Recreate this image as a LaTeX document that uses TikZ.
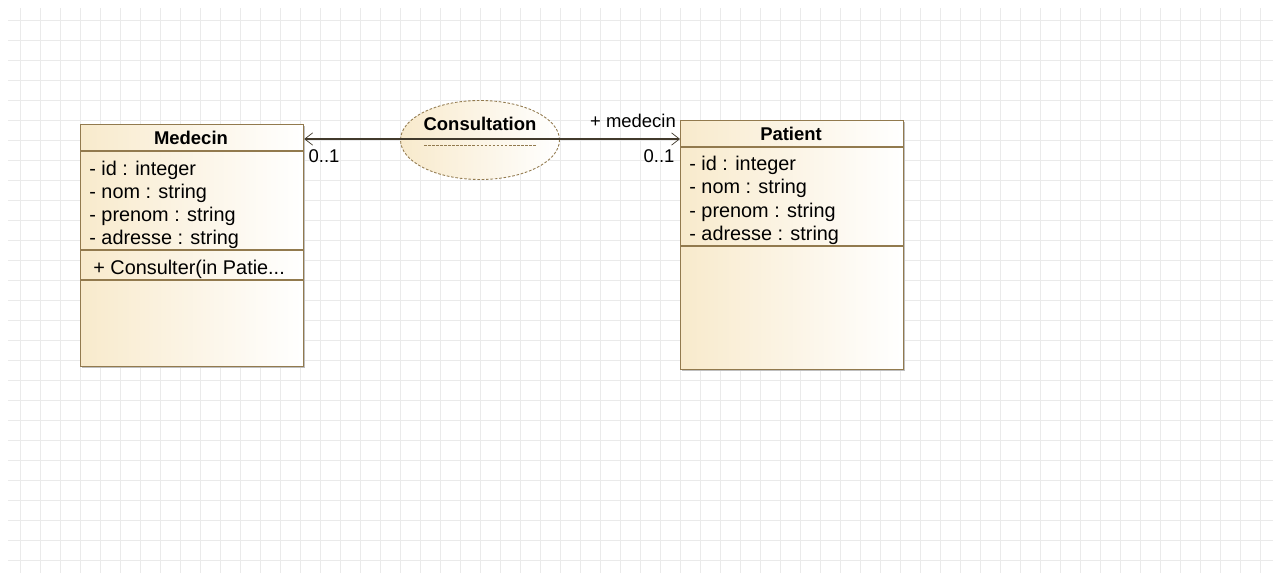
\documentclass[tikz,border=0pt]{standalone}
\usepackage{fontspec}
\setmainfont{Liberation Sans}
\usetikzlibrary{arrows.meta,shapes.geometric}

\definecolor{umlfill}{RGB}{248,234,204}
\definecolor{umlline}{RGB}{146,122,78}
\definecolor{linkcol}{RGB}{66,58,44}
\definecolor{gridcol}{RGB}{234,234,234}

\tikzset{
  classbox/.style={draw=umlline, line width=0.7pt, left color=umlfill, right color=white,
    inner sep=0pt, anchor=north west, minimum width=4.46cm},
  assoc/.style={ellipse, draw=umlline, dash pattern=on 1.5pt off 1pt, line width=0.5pt,
    left color=umlfill, right color=white, minimum width=3.18cm, minimum height=1.58cm},
  sep/.style={draw=umlline, line width=0.6pt},
  attr/.style={anchor=base west, inner sep=0pt, font=\fontsize{11.3}{13}\selectfont},
  title/.style={anchor=base, inner sep=0pt, font=\bfseries\fontsize{10.5}{12}\selectfont},
  lbl/.style={anchor=base, inner sep=0pt, font=\fontsize{10.5}{12}\selectfont},
}

\begin{document}
\begin{tikzpicture}[x=0.02cm, y=-0.02cm]
            \useasboundingbox (0,0) rectangle (1281,581);

            % Define grid
            \foreach \gx in {20,40,...,1260} \draw[gridcol, line width=0.5pt] (\gx,8) -- (\gx,573);
            \foreach \gy in {20,40,...,560} \draw[gridcol, line width=0.5pt] (8,\gy) -- (1273,\gy);

            % Define classes
            \fill[black!25] (82,126) rectangle (305,368);
            \node[classbox, minimum height=4.84cm] (medecin) at (80,124) {};
            \fill[black!25] (682,122) rectangle (905,371);
            \node[classbox, minimum height=4.98cm] (patient) at (680,120) {};

            % Draw compartments
            \draw[sep] (medecin.west |- 0,151) -- (medecin.east |- 0,151);
            \draw[sep] (medecin.west |- 0,250) -- (medecin.east |- 0,250);
            \draw[sep] (medecin.west |- 0,280) -- (medecin.east |- 0,280);
            \draw[sep] (patient.west |- 0,147) -- (patient.east |- 0,147);
            \draw[sep] (patient.west |- 0,246) -- (patient.east |- 0,246);

            % Medecin texts
            \node[title] (medecinname) at (191,144) {Medecin};
            \node[attr] (m1) at (89,175) {- id : integer};
            \node[attr] (m2) at (89,198) {- nom : string};
            \node[attr] (m3) at (89,221) {- prenom : string};
            \node[attr] (m4) at (89,244) {- adresse : string};
            \node[attr] (mop) at (93,274) {+ Consulter(in Patie...};

            % Patient texts
            \node[title] (patientname) at (791,140) {Patient};
            \node[attr] (p1) at (689,171) {- id : integer};
            \node[attr] (p2) at (689,194) {- nom : string};
            \node[attr] (p3) at (689,217) {- prenom : string};
            \node[attr] (p4) at (689,240) {- adresse : string};

            % Association class
            \node[assoc] (consult) at (480,140) {};
            \node[title] (consultname) at (480,131) {Consultation};
            \draw[umlline, line width=0.5pt, dash pattern=on 1.5pt off 0.8pt] (424,139) -- (537,139);
            \draw[umlline, line width=0.5pt, dash pattern=on 1.5pt off 0.8pt] (424,145) -- (537,145);

            % Draw association
            \coordinate (lnk) at (0,139);
            \draw[linkcol, line width=0.6pt, {Straight Barb[length=4.5pt,width=7pt,line width=0.4pt]}-{Straight Barb[length=4.5pt,width=7pt,line width=0.4pt]}]
              (medecin.east |- lnk) -- (patient.west |- lnk);
            \node[lbl] (mult1) at (324,162) {0..1};
            \node[lbl] (mult2) at (659,162) {0..1};
            \node[lbl] (role) at (633,128) {+ medecin};
        \end{tikzpicture}
\end{document}
